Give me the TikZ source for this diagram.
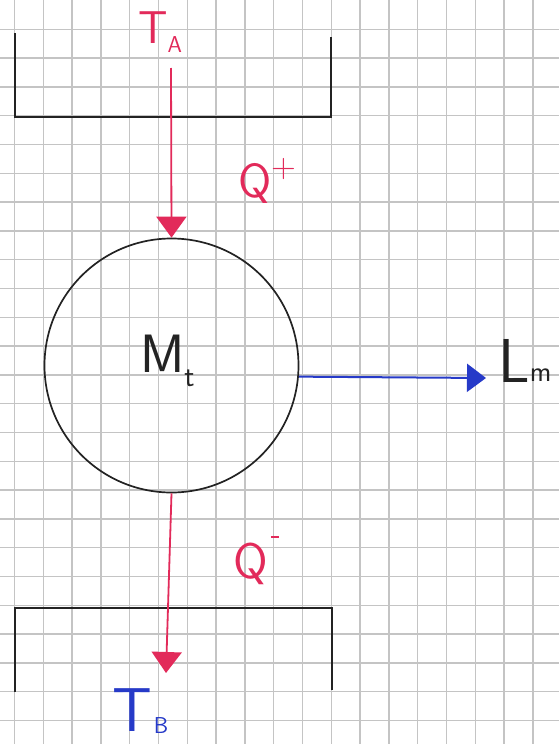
\documentclass[tikz,border=0pt]{standalone}
\usepackage{fontspec}
\usetikzlibrary{arrows.meta}
\definecolor{penred}{RGB}{226,42,90}
\definecolor{penblue}{RGB}{38,58,200}
\definecolor{ink}{RGB}{35,35,35}
\definecolor{gridc}{RGB}{196,196,196}
\begin{document}
\begin{tikzpicture}[x=1pt,y=-1pt,
  gridline/.style={draw=gridc, line width=1.3pt},
  inkline/.style={draw=ink, line width=1.7pt},
  redflow/.style={draw=penred, line width=1.8pt, -{Triangle[width=30pt,length=21pt]}},
  blueflow/.style={draw=penblue, line width=2pt, -{Triangle[width=28pt,length=19pt]}},
  lbl/.style={inner sep=0pt, anchor=base west, font=\sffamily}
]
\useasboundingbox (0,0) rectangle (559,744);
\fill[white] (0,0) rectangle (559,744);
% grid paper
\foreach \i in {0,...,18} \draw[gridline] ({14.5+28.8*\i},0) -- ({14.5+28.8*\i},744);
\foreach \j in {1,...,25} \draw[gridline] (0,{0.5+28.8*\j}) -- (559,{0.5+28.8*\j});
% top reservoir
\draw[inkline] (15,33) -- (15,117) -- (331,117) -- (331,37);
% bottom reservoir
\draw[inkline] (15,692) -- (15,608) -- (332,608) -- (332,690);
% machine
\node[draw=ink, line width=1.7pt, circle, minimum size=254pt, inner sep=0pt] (M) at (171.5,365.5) {};
\node[lbl, text=ink] (mt) at (140,372) {\fontsize{54}{54}\selectfont M\raisebox{-14pt}{\fontsize{30}{30}\selectfont t}};
% connectors
\coordinate (qin) at (171,68);
\coordinate (qout) at (166,673);
\coordinate (work) at (486,378);
\draw[redflow] (qin) -- (M.north);
\draw[redflow] (M.south) -- (qout);
\draw[blueflow] (M.-5.6) -- (work);
% labels
\node[lbl, text=penred] (ta) at (138,43) {\fontsize{46}{46}\selectfont T\raisebox{-9pt}{\fontsize{23}{23}\selectfont A}};
\node[lbl, text=penred] (qp) at (238,197) {\fontsize{48}{48}\selectfont Q\raisebox{20pt}{\fontsize{34}{34}\selectfont +}};
\node[lbl, text=penred] (qm) at (233,578) {\fontsize{50}{50}\selectfont Q\hspace{3pt}\raisebox{40pt}{\rule{8pt}{2pt}}};
\node[lbl, text=penblue] (tb) at (112,731) {\fontsize{62}{62}\selectfont T\hspace{2pt}\raisebox{-2pt}{\fontsize{23}{23}\selectfont B}};
\node[lbl, text=ink] (lm) at (498,382) {\fontsize{62}{62}\selectfont L\raisebox{1pt}{\fontsize{29}{29}\selectfont m}};
\end{tikzpicture}
\end{document}
